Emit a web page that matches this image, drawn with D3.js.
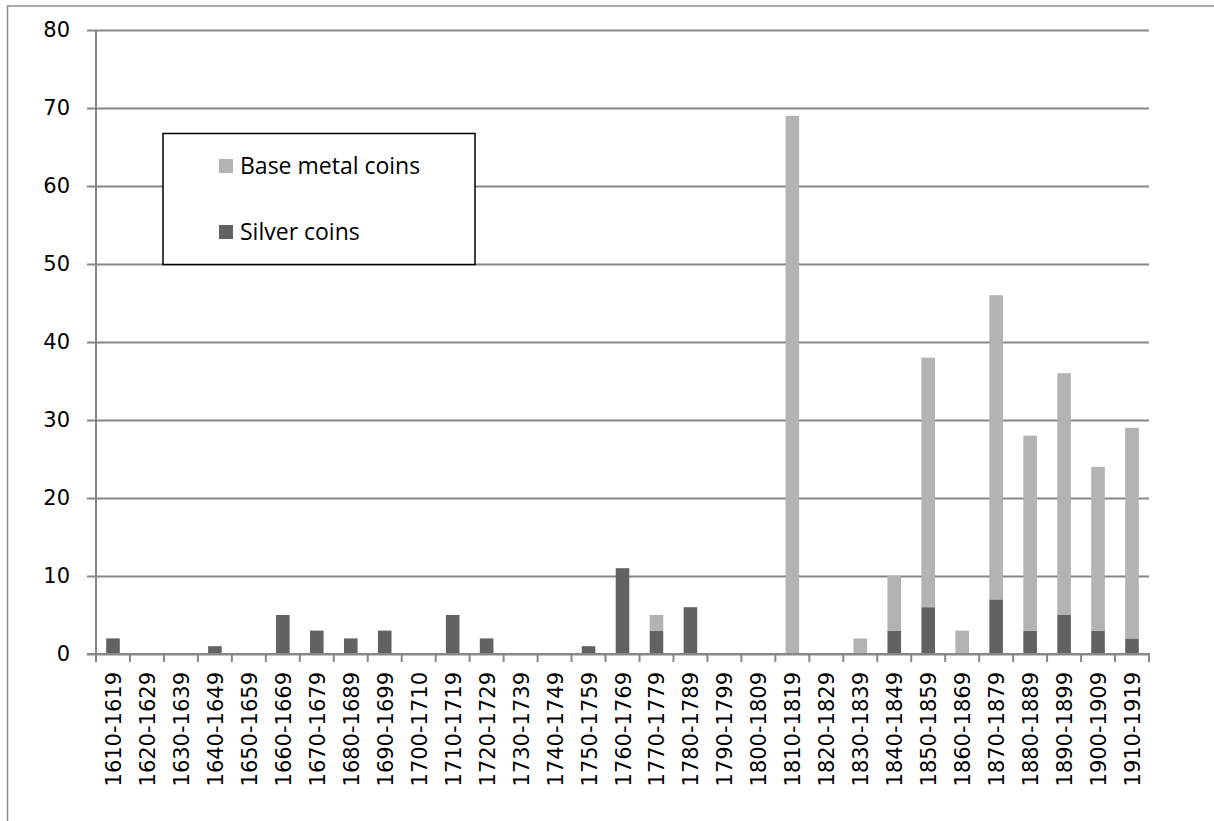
<!DOCTYPE html>
<html>
<head>
<meta charset="utf-8">
<script src="https://cdn.jsdelivr.net/npm/d3@7"></script>
<style>
  html, body { margin: 0; padding: 0; background: #fff; }
  svg { display: block; }
</style>
</head>
<body>
<svg id="chart" width="1214" height="821"></svg>
<script>
// Coin finds by decade
const decades = [
  "1610-1619","1620-1629","1630-1639","1640-1649","1650-1659","1660-1669",
  "1670-1679","1680-1689","1690-1699","1700-1710","1710-1719","1720-1729",
  "1730-1739","1740-1749","1750-1759","1760-1769","1770-1779","1780-1789",
  "1790-1799","1800-1809","1810-1819","1820-1829","1830-1839","1840-1849",
  "1850-1859","1860-1869","1870-1879","1880-1889","1890-1899","1900-1909",
  "1910-1919"
];
const silverCoins = [2,0,0,1,0,5,3,2,3,0,5,2,0,0,1,11,3,6,0,0,0,0,0,3,6,0,7,3,5,3,2];
const baseMetalCoins = [0,0,0,0,0,0,0,0,0,0,0,0,0,0,0,0,2,0,0,0,69,0,2,7,32,3,39,25,31,21,27];
const yTicks = [0,10,20,30,40,50,60,70,80];
const seriesNames = ["Silver coins", "Base metal coins"];
const seriesColors = { "Silver coins": "#626262", "Base metal coins": "#b3b3b3" };

const svg = d3.select("#chart");
const gridColor = "#878787";
const axisFont = "'DejaVu Sans', sans-serif";

// outer chart frame
svg.append("rect")
  .attr("x", 7.5).attr("y", 6).attr("width", 1400).attr("height", 1000)
  .attr("fill", "none").attr("stroke", "#8c8c8c").attr("stroke-width", 1.5);

const plot = { left: 96, right: 1149, top: 30, bottom: 654 };

const x = d3.scaleBand().domain(decades).range([plot.left, plot.right]).paddingInner(0).paddingOuter(0);
const y = d3.scaleLinear().domain([0, 80]).range([plot.bottom, plot.top]);

// horizontal gridlines with left tick marks
const yAxis = d3.axisLeft(y).tickValues(yTicks).tickSize(plot.right - plot.left + 9).tickSizeOuter(0);
const gy = svg.append("g").attr("transform", `translate(${plot.right},0)`).call(yAxis);
gy.select(".domain").remove();
gy.selectAll(".tick line").attr("stroke", gridColor).attr("stroke-width", 2);
gy.selectAll(".tick text")
  .attr("x", -(plot.right - plot.left) - 26)
  .attr("font-family", axisFont).attr("font-size", 21).attr("fill", "#000");

// vertical axis line
svg.append("line")
  .attr("x1", plot.left).attr("x2", plot.left)
  .attr("y1", plot.top).attr("y2", plot.bottom + 8)
  .attr("stroke", gridColor).attr("stroke-width", 2);

// stacked bars
const rows = decades.map((d, i) => ({ decade: d, "Silver coins": silverCoins[i], "Base metal coins": baseMetalCoins[i] }));
const stacked = d3.stack().keys(seriesNames)(rows);
const barW = x.bandwidth() * 0.4;
svg.append("g").selectAll("g").data(stacked).join("g")
  .attr("fill", s => seriesColors[s.key])
  .selectAll("rect").data(s => s.map((v, i) => ({ v, i }))).join("rect")
  .attr("x", d => x(decades[d.i]) + (x.bandwidth() - barW) / 2)
  .attr("width", barW)
  .attr("y", d => y(d.v[1]))
  .attr("height", d => y(d.v[0]) - y(d.v[1]));

// category axis: boundary ticks below the zero line
const xTickPositions = decades.map(d => x(d)).concat([plot.right]);
svg.append("g").selectAll("line").data(xTickPositions).join("line")
  .attr("x1", d => d).attr("x2", d => d)
  .attr("y1", plot.bottom).attr("y2", plot.bottom + 8)
  .attr("stroke", gridColor).attr("stroke-width", 2);
svg.append("line")
  .attr("x1", plot.left - 9).attr("x2", plot.right + 1)
  .attr("y1", plot.bottom).attr("y2", plot.bottom)
  .attr("stroke", gridColor).attr("stroke-width", 2);

// rotated category labels
svg.append("g").selectAll("text").data(decades).join("text")
  .attr("transform", d => `translate(${x(d) + x.bandwidth() / 2 + 1},${plot.bottom + 18}) rotate(-90)`)
  .attr("text-anchor", "end")
  .attr("dominant-baseline", "central")
  .attr("font-family", axisFont).attr("font-size", 21).attr("fill", "#000")
  .text(d => d);

// legend
const legend = svg.append("g");
legend.append("rect")
  .attr("x", 163).attr("y", 133.5).attr("width", 312).attr("height", 131)
  .attr("fill", "#fff").attr("stroke", "#000").attr("stroke-width", 1.5);
const legendItems = ["Base metal coins", "Silver coins"];
legend.selectAll("g.item").data(legendItems).join("g")
  .attr("class", "item")
  .attr("transform", (d, i) => `translate(219,${159 + i * 66})`)
  .each(function (d) {
    const g = d3.select(this);
    g.append("rect").attr("width", 14).attr("height", 14).attr("fill", seriesColors[d]);
    g.append("text").attr("x", 21).attr("y", 15)
      .attr("font-family", "'Open Sans', sans-serif").attr("font-size", 23).attr("fill", "#000")
      .text(d);
  });
</script>
</body>
</html>
